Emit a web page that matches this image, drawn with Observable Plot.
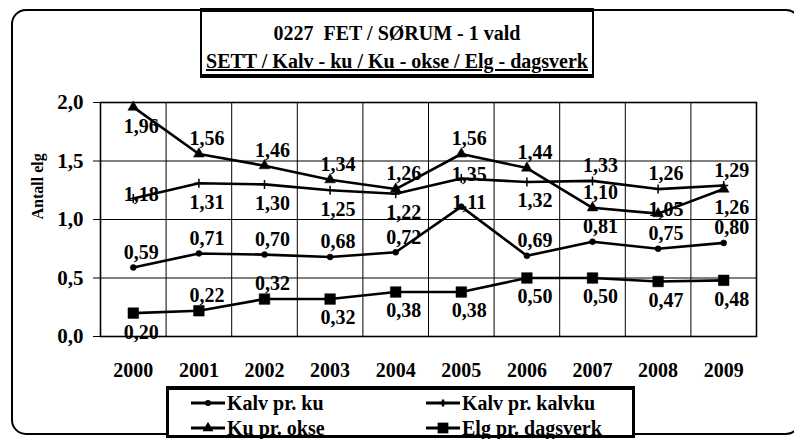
<!DOCTYPE html>
<html>
<head>
<meta charset="utf-8">
<script src="https://cdn.jsdelivr.net/npm/d3@7"></script>
<script src="https://cdn.jsdelivr.net/npm/@observablehq/plot@0.6"></script>
<style>
  html, body { margin: 0; padding: 0; background: #fff; }
  html body #wrap, html body #wrap div, html body #wrap span, html body #wrap svg, html body #wrap svg text, html body #wrap svg g { font-family: 'Liberation Serif', 'Times New Roman', serif !important; }
  #wrap { position: relative; width: 794px; height: 439px; overflow: hidden; font-weight: bold; color: #000; }
  #frameBox { position: absolute; left: 11px; top: 9px; width: 790px; height: 426px; border: 2px solid #000; border-radius: 15px; box-sizing: border-box; }
  #title { position: absolute; left: 200px; top: 8px; width: 394px; height: 70px; border: 2px solid #000; border-top-width: 4px; border-bottom-width: 4px; box-sizing: border-box; background: #fff; text-align: center; font-size: 20px; line-height: 28px; }
  #title .l1 { margin-top: 7px; }
  #title .l2 { text-decoration: underline; white-space: nowrap; }
  #legend { position: absolute; left: 166px; top: 386px; width: 469px; height: 52px; border: 3px solid #000; border-top-width: 4px; box-sizing: border-box; background: #fff; font-size: 20px; }
  .item { position: absolute; display: flex; align-items: center; white-space: nowrap; height: 24px; }
  .item svg { margin-right: 2px; }
  #plot { position: absolute; left: 0; top: 0; }
</style>
</head>
<body>
<div id="wrap">
  <div id="frameBox"></div>
  <div id="plot"></div>
  <div id="title"><div class="l1">0227&nbsp; FET / SØRUM - 1 vald</div><div class="l2">SETT / Kalv - ku / Ku - okse / Elg - dagsverk</div></div>
  <div id="legend"></div>
</div>
<script>
// ---- data ----
const years = [2000, 2001, 2002, 2003, 2004, 2005, 2006, 2007, 2008, 2009];
const seriesNames = ["Kalv pr. ku", "Kalv pr. kalvku", "Ku pr. okse", "Elg pr. dagsverk"];
const kalvPrKu      = [0.59, 0.71, 0.70, 0.68, 0.72, 1.11, 0.69, 0.81, 0.75, 0.80];
const kalvPrKalvku  = [1.18, 1.31, 1.30, 1.25, 1.22, 1.35, 1.32, 1.33, 1.26, 1.29];
const kuPrOkse      = [1.96, 1.56, 1.46, 1.34, 1.26, 1.56, 1.44, 1.10, 1.05, 1.26];
const elgPrDagsverk = [0.20, 0.22, 0.32, 0.32, 0.38, 0.38, 0.50, 0.50, 0.47, 0.48];
const yTicks = [0, 0.5, 1.0, 1.5, 2.0];
// label placement hints: a = above, b = below, o = on the line
const placeKalvPrKu      = ["a","a","a","a","a","o","a","a","a","a"];
const placeKalvPrKalvku  = ["o","b","b","b","b","o","b","a","a","a"];
const placeKuPrOkse      = ["b","a","a","a","a","a","a","a","o","b"];
const placeElgPrDagsverk = ["b","a","a","b","b","b","b","b","b","b"];

const seriesValues = [kalvPrKu, kalvPrKalvku, kuPrOkse, elgPrDagsverk];
const seriesPlace = [placeKalvPrKu, placeKalvPrKalvku, placeKuPrOkse, placeElgPrDagsverk];
const seriesSymbol = ["circle", "plus", "triangle", "square"];
const seriesR = [3, 3, 4, 6];

const rows = [];
seriesNames.forEach((s, i) => {
  years.forEach((yr, j) => rows.push({series: s, year: yr, value: seriesValues[i][j], place: seriesPlace[i][j]}));
});
const fmt = v => d3.format(".2f")(v).replace(".", ",");
const fmt1 = v => d3.format(".1f")(v).replace(".", ",");
const FF = "Liberation Serif";

const marks = [
  Plot.ruleY([0.5, 1.0, 1.5], {stroke: "#000", strokeWidth: 1}),
  Plot.ruleX(years.slice(0, -1).map(y => y + 0.5), {stroke: "#000", strokeWidth: 1}),
  Plot.axisY({ticks: yTicks, tickFormat: fmt1, tickSize: 7, tickPadding: 10, label: null, fontSize: 21, fontFamily: FF, fontWeight: "bold"}),
  Plot.axisX({ticks: years, tickFormat: d => String(d), tickSize: 0, tickPadding: 26, label: null, fontSize: 20, fontFamily: FF, fontWeight: "bold"}),
  Plot.frame({stroke: "#000", strokeWidth: 1.6}),
  Plot.text(["Antall elg"], {frameAnchor: "left", dx: -63, rotate: -90, fontSize: 16, fontWeight: "bold", fontFamily: FF})
];
seriesNames.forEach((s, i) => {
  const d = rows.filter(r => r.series === s);
  marks.push(Plot.line(d, {x: "year", y: "value", stroke: "#000", strokeWidth: 2.6}));
  marks.push(Plot.dot(d, {x: "year", y: "value", symbol: () => seriesSymbol[i], r: seriesR[i],
    fill: seriesSymbol[i] === "plus" ? "none" : "#000", stroke: "#000", strokeWidth: seriesSymbol[i] === "plus" ? 1.5 : 0.5}));
});
const offsets = {a: -15, b: 19, o: -4};
for (const [code, dy] of Object.entries(offsets)) {
  marks.push(Plot.text(rows.filter(r => r.place === code), {x: "year", y: "value", text: d => fmt(d.value), dx: 8, dy, fontSize: 20, fontWeight: "bold", fontFamily: FF, fill: "#000"}));
}

const chart = Plot.plot({
  width: 794,
  height: 439,
  marginTop: 102,
  marginBottom: 103,
  marginLeft: 100,
  marginRight: 38,
  style: {fontWeight: "bold", color: "#000", background: "transparent", overflow: "visible"},
  x: {domain: [years[0] - 0.5, years[years.length - 1] + 0.5]},
  y: {domain: [0, 2]},
  marks
});
chart.setAttribute("font-family", FF);
document.getElementById("plot").appendChild(chart);

// ---- legend ----
const legend = document.getElementById("legend");
const pos = [[22, 1], [257, 1], [22, 26], [257, 26]];
seriesNames.forEach((s, i) => {
  const it = document.createElement("div");
  it.className = "item";
  it.style.left = pos[i][0] + "px";
  it.style.top = pos[i][1] + "px";
  const w = 34;
  const svg = d3.create("svg").attr("width", w).attr("height", 14);
  svg.append("line").attr("x1", 0).attr("x2", w).attr("y1", 7).attr("y2", 7).attr("stroke", "#000").attr("stroke-width", 3);
  const sym = d3.symbol().type({circle: d3.symbolCircle, plus: d3.symbolCross, triangle: d3.symbolTriangle, square: d3.symbolSquare}[seriesSymbol[i]]).size(seriesR[i] * seriesR[i] * 3.2);
  svg.append("path").attr("d", sym()).attr("transform", `translate(${w/2},7)`).attr("fill", "#000");
  it.appendChild(svg.node());
  const t = document.createElement("span");
  t.textContent = s;
  if (i >= 2) t.style.textDecoration = "underline";
  it.appendChild(t);
  legend.appendChild(it);
});
</script>
</body>
</html>
